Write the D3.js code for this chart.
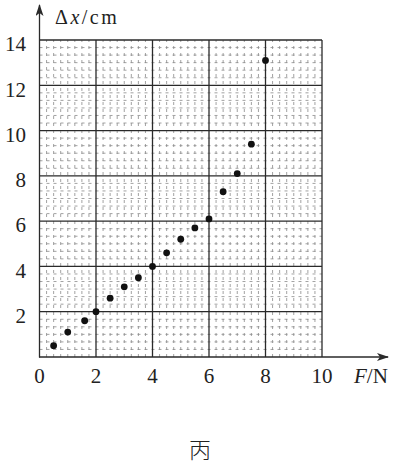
<!DOCTYPE html>
<html>
<head>
<meta charset="utf-8">
<script src="https://cdn.jsdelivr.net/npm/d3@7"></script>
<style>
  html, body { margin: 0; padding: 0; background: #fff; }
  svg { display: block; }
</style>
</head>
<body>
<svg id="chart" width="393" height="464"></svg>
<script>
// Data: force F (N) and extension Δx (cm)
const forceN = [0.5, 1.0, 1.6, 2.0, 2.5, 3.0, 3.5, 4.0, 4.5, 5.0, 5.5, 6.0, 6.5, 7.0, 7.5, 8.0];
const extensionCm = [0.5, 1.1, 1.6, 2.0, 2.6, 3.1, 3.5, 4.0, 4.6, 5.2, 5.7, 6.1, 7.3, 8.1, 9.4, 13.1];
const xTicks = [0, 2, 4, 6, 8, 10];
const yTicks = [2, 4, 6, 8, 10, 12, 14];
const xMinorStep = 0.25;
const yMinorStep = 1 / 3;
const yTitle = "Δx/cm";
const xTitleItalic = "F";
const xTitleRest = "/N";
const caption = "丙";

const SERIF = "'Liberation Serif', 'Times New Roman', 'DejaVu Serif', serif";
const svg = d3.select("#chart");
const x = d3.scaleLinear().domain([0, 10]).range([39.5, 322]);
const y = d3.scaleLinear().domain([0, 14]).range([357, 40]);

const ink = "#2a2a2a";

// minor grid (dashed, like scanned graph paper)
const isMajor = v => Math.abs(v / 2 - Math.round(v / 2)) < 1e-6;
const xMinor = d3.range(0, 10 + 1e-9, xMinorStep).filter(v => !isMajor(v));
const yMinor = d3.range(0, 14 + 1e-9, yMinorStep).filter(v => !isMajor(v));
const minor = svg.append("g").attr("stroke", "#8a8a8a").attr("stroke-width", 0.8).attr("stroke-dasharray", "3,4");
minor.selectAll("line.vx").data(xMinor).join("line")
  .attr("x1", d => x(d)).attr("x2", d => x(d)).attr("y1", y(0)).attr("y2", y(14));
minor.selectAll("line.hy").data(yMinor).join("line")
  .attr("x1", x(0)).attr("x2", x(10)).attr("y1", d => y(d)).attr("y2", d => y(d));

// major grid
const major = svg.append("g").attr("stroke", ink).attr("stroke-width", 1.3);
major.selectAll("line.mx").data(xTicks.filter(d => d > 0)).join("line")
  .attr("x1", d => x(d)).attr("x2", d => x(d)).attr("y1", y(0)).attr("y2", y(14));
major.selectAll("line.my").data(yTicks).join("line")
  .attr("x1", x(0)).attr("x2", x(10)).attr("y1", d => y(d)).attr("y2", d => y(d));

// axes with arrows
const defs = svg.append("defs");
defs.append("marker").attr("id", "arr").attr("viewBox", "0 0 12 8")
  .attr("refX", 11).attr("refY", 4).attr("markerWidth", 12).attr("markerHeight", 8)
  .attr("markerUnits", "userSpaceOnUse").attr("orient", "auto")
  .append("path").attr("d", "M0,0 L12,4 L0,8 L3,4 Z").attr("fill", ink);

svg.append("line").attr("x1", x(0)).attr("x2", x(0)).attr("y1", y(0) + 0.5).attr("y2", 5)
  .attr("stroke", ink).attr("stroke-width", 1.3).attr("marker-end", "url(#arr)");
svg.append("line").attr("x1", x(0) - 0.5).attr("x2", 388).attr("y1", y(0)).attr("y2", y(0))
  .attr("stroke", ink).attr("stroke-width", 1.3).attr("marker-end", "url(#arr)");

// tick labels
svg.append("g").selectAll("text").data(yTicks).join("text")
  .attr("font-family", SERIF).attr("fill", "#222")
  .attr("x", 26).attr("y", d => y(d) + 4).attr("dy", "0.35em")
  .attr("text-anchor", "end").attr("font-size", 21).text(d => d);
svg.append("g").selectAll("text").data(xTicks).join("text")
  .attr("font-family", SERIF).attr("fill", "#222")
  .attr("x", d => x(d)).attr("y", 376).attr("dy", "0.35em")
  .attr("text-anchor", "middle").attr("font-size", 21).text(d => d);

// axis titles
const yt = svg.append("text").attr("font-family", SERIF).attr("fill", "#222")
  .attr("x", 55).attr("y", 24).attr("font-size", 20).attr("letter-spacing", 2.5);
yt.append("tspan").text(yTitle[0]);
yt.append("tspan").attr("font-style", "italic").text(yTitle[1]);
yt.append("tspan").text(yTitle.slice(2));

const xt = svg.append("text").attr("font-family", SERIF).attr("fill", "#222")
  .attr("x", 354).attr("y", 383).attr("font-size", 21);
xt.append("tspan").attr("font-style", "italic").text(xTitleItalic);
xt.append("tspan").text(xTitleRest);

// data points
svg.append("g").selectAll("circle").data(forceN.map((f, i) => [f, extensionCm[i]])).join("circle")
  .attr("cx", d => x(d[0])).attr("cy", d => y(d[1])).attr("r", 3.4).attr("fill", "#111");

// caption
svg.append("text").attr("x", 200).attr("y", 458).attr("text-anchor", "middle").attr("fill", "#222")
  .attr("font-size", 22).attr("font-family", "'Noto Sans CJK SC', sans-serif").attr("font-weight", 300).text(caption);
</script>
</body>
</html>
